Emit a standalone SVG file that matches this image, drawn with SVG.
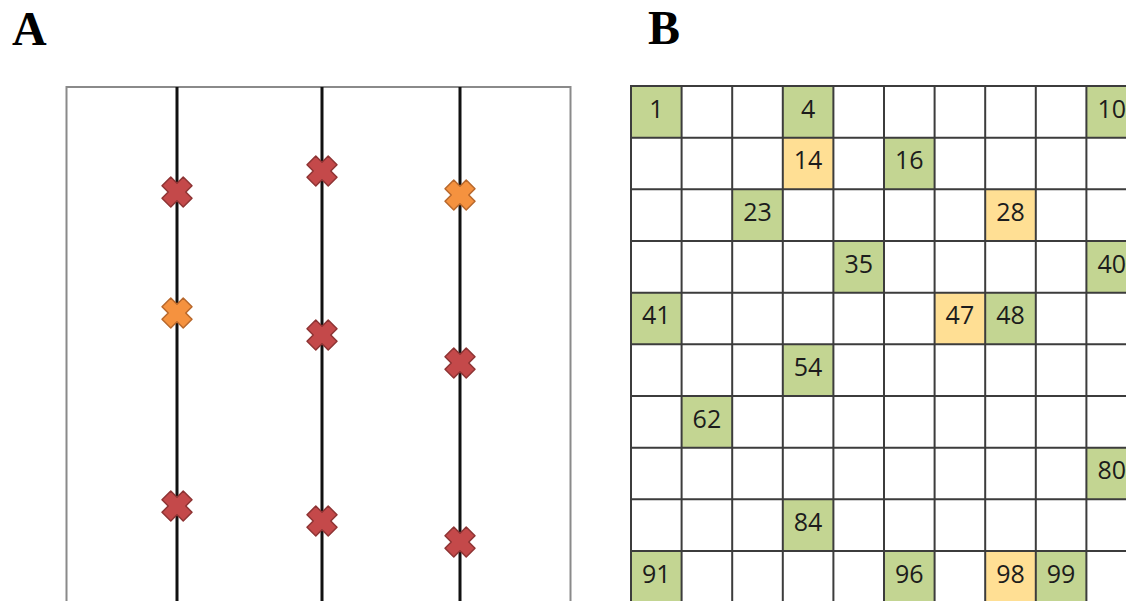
<svg xmlns="http://www.w3.org/2000/svg" xmlns:xlink="http://www.w3.org/1999/xlink" width="1126" height="601" viewBox="0 0 1126 601">
<style>
.lbl{font-family:"Liberation Serif","Times New Roman",serif;font-weight:bold;font-size:48px;fill:#000}
.g{fill:#c3d592}
.y{fill:#ffdf94}
.n{font-family:"Open Sans","Liberation Sans",sans-serif;font-size:25px;fill:#1c1c1c;text-anchor:middle}
.gl{stroke:#3c3c3c;stroke-width:2;fill:none}
.tr{stroke:#111;stroke-width:3}
.red{fill:#c4494a;stroke:#8e3434;stroke-width:1.5;stroke-linejoin:round}
.org{fill:#f5923f;stroke:#b8682c;stroke-width:1.5;stroke-linejoin:round}
</style>
<defs>
<polygon id="xm" transform="rotate(45)" points="-6.2,-15 6.2,-15 6.2,-6.2 15,-6.2 15,6.2 6.2,6.2 6.2,15 -6.2,15 -6.2,6.2 -15,6.2 -15,-6.2 -6.2,-6.2"/>
</defs>
<rect width="1126" height="601" fill="#fff"/>
<text class="lbl" x="12" y="45">A</text>
<text class="lbl" x="648" y="44">B</text>
<g id="panelA">
<rect x="66.5" y="87" width="504" height="530" fill="#fff" stroke="#8a8a8a" stroke-width="2"/>
<g id="tracks">
<line class="tr" x1="177" y1="87" x2="177" y2="601"/>
<line class="tr" x1="322" y1="87" x2="322" y2="601"/>
<line class="tr" x1="460" y1="87" x2="460" y2="601"/>
</g>
<g id="markers">
<use href="#xm" class="red" transform="translate(177,192)"/>
<use href="#xm" class="org" transform="translate(177,313)"/>
<use href="#xm" class="red" transform="translate(177,506)"/>
<use href="#xm" class="red" transform="translate(322,171)"/>
<use href="#xm" class="red" transform="translate(322,335)"/>
<use href="#xm" class="red" transform="translate(322,521)"/>
<use href="#xm" class="org" transform="translate(460,195)"/>
<use href="#xm" class="red" transform="translate(460,363)"/>
<use href="#xm" class="red" transform="translate(460,542)"/>
</g>
</g>
<g id="panelB">
<g id="cells">
<rect class="g" x="631" y="86" width="50.6" height="51.67"/>
<rect class="g" x="782.8" y="86" width="50.6" height="51.67"/>
<rect class="g" x="1086.4" y="86" width="50.6" height="51.67"/>
<rect class="y" x="782.8" y="137.67" width="50.6" height="51.67"/>
<rect class="g" x="884" y="137.67" width="50.6" height="51.67"/>
<rect class="g" x="732.2" y="189.33" width="50.6" height="51.67"/>
<rect class="y" x="985.2" y="189.33" width="50.6" height="51.67"/>
<rect class="g" x="833.4" y="241" width="50.6" height="51.67"/>
<rect class="g" x="1086.4" y="241" width="50.6" height="51.67"/>
<rect class="g" x="631" y="292.67" width="50.6" height="51.67"/>
<rect class="y" x="934.6" y="292.67" width="50.6" height="51.67"/>
<rect class="g" x="985.2" y="292.67" width="50.6" height="51.67"/>
<rect class="g" x="782.8" y="344.33" width="50.6" height="51.67"/>
<rect class="g" x="681.6" y="396" width="50.6" height="51.67"/>
<rect class="g" x="1086.4" y="447.67" width="50.6" height="51.67"/>
<rect class="g" x="782.8" y="499.33" width="50.6" height="51.67"/>
<rect class="g" x="631" y="551" width="50.6" height="51.67"/>
<rect class="g" x="884" y="551" width="50.6" height="51.67"/>
<rect class="y" x="985.2" y="551" width="50.6" height="51.67"/>
<rect class="g" x="1035.8" y="551" width="50.6" height="51.67"/>
</g>
<g id="gridlines" class="gl">
<path d="M631,86V601M681.6,86V601M732.2,86V601M782.8,86V601M833.4,86V601M884,86V601M934.6,86V601M985.2,86V601M1035.8,86V601M1086.4,86V601"/>
<path d="M630,86H1126M630,137.67H1126M630,189.33H1126M630,241H1126M630,292.67H1126M630,344.33H1126M630,396H1126M630,447.67H1126M630,499.33H1126M630,551H1126"/>
</g>
<g id="numbers">
<text class="n" x="656.3" y="117.5">1</text>
<text class="n" x="808.1" y="117.5">4</text>
<text class="n" x="1111.7" y="117.5">10</text>
<text class="n" x="808.1" y="169.2">14</text>
<text class="n" x="909.3" y="169.2">16</text>
<text class="n" x="757.5" y="220.8">23</text>
<text class="n" x="1010.5" y="220.8">28</text>
<text class="n" x="858.7" y="272.5">35</text>
<text class="n" x="1111.7" y="272.5">40</text>
<text class="n" x="656.3" y="324.2">41</text>
<text class="n" x="959.9" y="324.2">47</text>
<text class="n" x="1010.5" y="324.2">48</text>
<text class="n" x="808.1" y="375.8">54</text>
<text class="n" x="706.9" y="427.5">62</text>
<text class="n" x="1111.7" y="479.2">80</text>
<text class="n" x="808.1" y="530.8">84</text>
<text class="n" x="656.3" y="582.5">91</text>
<text class="n" x="909.3" y="582.5">96</text>
<text class="n" x="1010.5" y="582.5">98</text>
<text class="n" x="1061.1" y="582.5">99</text>
</g>
</g>
</svg>
